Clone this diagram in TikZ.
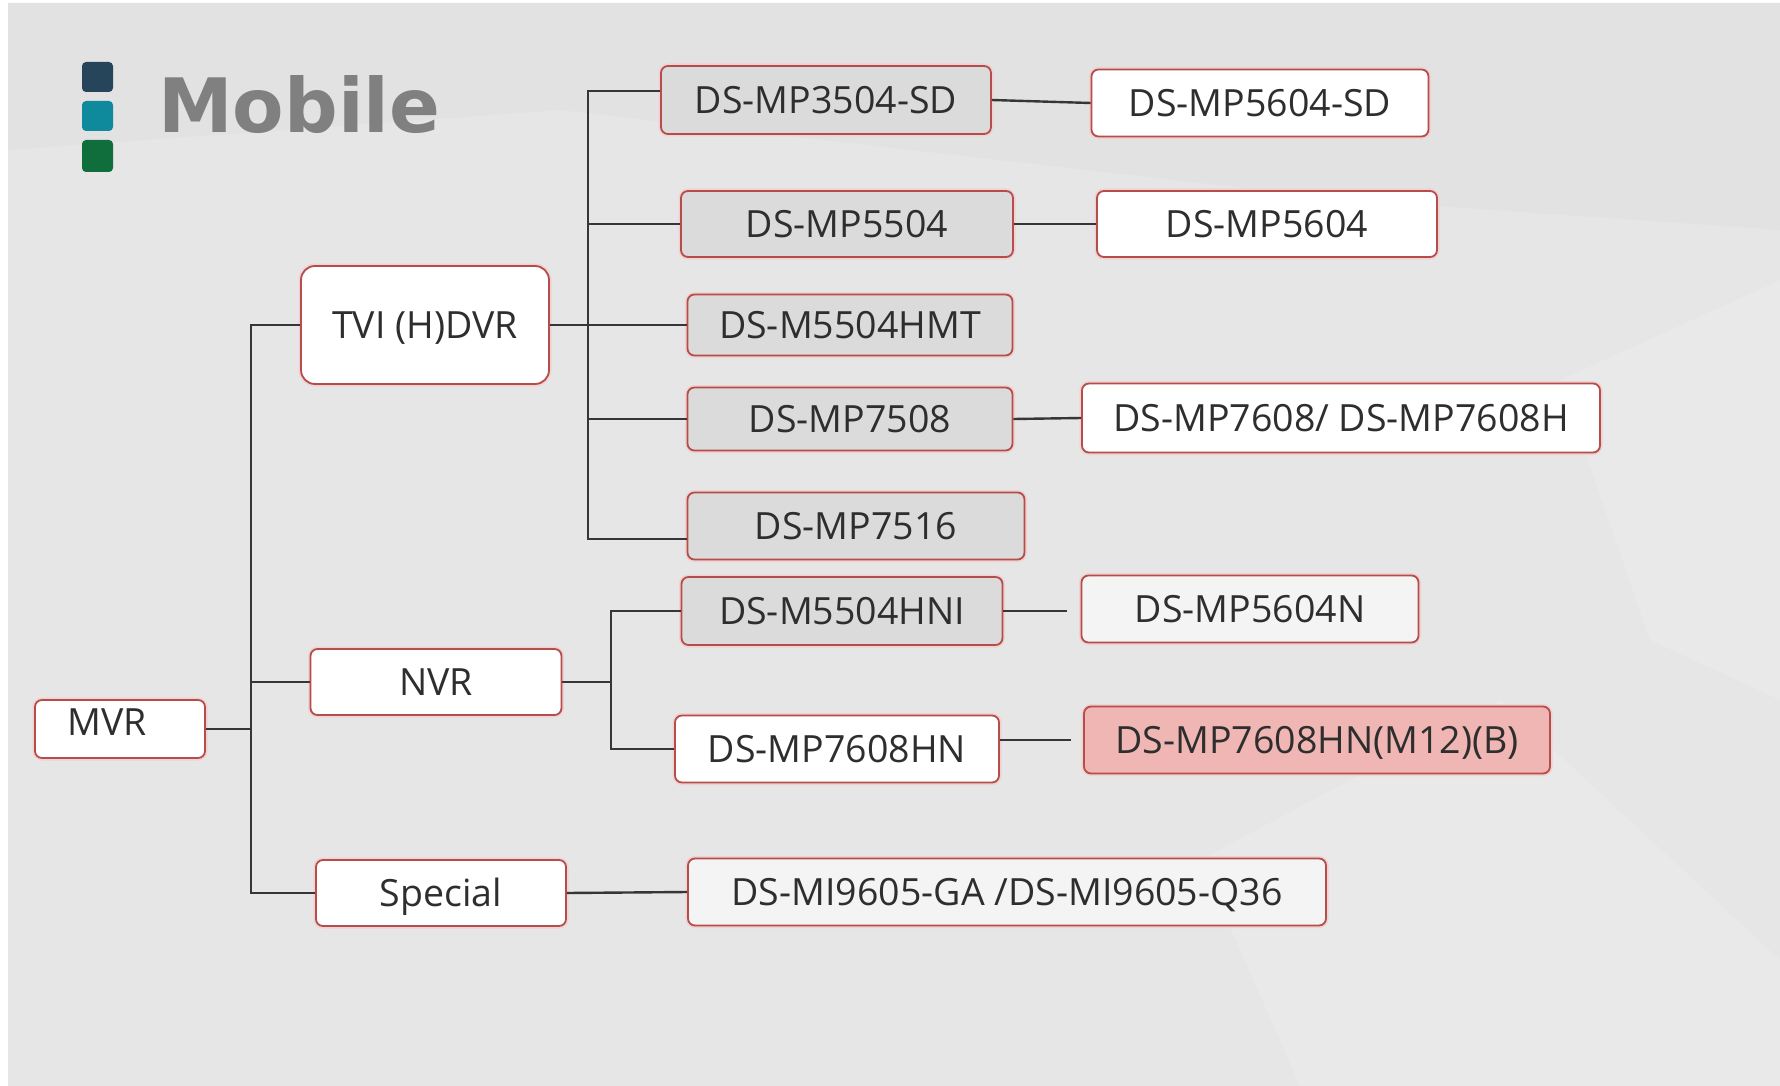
\documentclass[tikz,border=0pt]{standalone}
\usepackage{fontspec}
\setmainfont{Open Sans}
\newfontfamily\titlefont{DejaVu Sans}
\definecolor{linec}{HTML}{363636}
\definecolor{bordc}{HTML}{B54E4B}
\definecolor{glowc}{HTML}{EFD2D2}
\definecolor{grayf}{HTML}{DBDBDB}
\definecolor{lightf}{HTML}{F4F4F4}
\definecolor{pinkf}{HTML}{F0B6B4}
\definecolor{textc}{HTML}{2E2E2E}
\definecolor{bgc}{HTML}{E6E6E6}
\definecolor{bgl}{HTML}{E9E9E9}
\definecolor{bgd}{HTML}{E3E2E3}
\definecolor{sqa}{HTML}{27455A}
\definecolor{sqb}{HTML}{0E8A9C}
\definecolor{sqc}{HTML}{0F6E3C}
\definecolor{titlec}{HTML}{808080}
\begin{document}
\begin{tikzpicture}[x=1pt,y=-1pt,
  conn/.style={draw=linec, line width=2.4pt},
  bx/.style={draw=bordc, line width=1.8pt, rounded corners=7pt, inner sep=0pt,
    text=textc, font=\fontsize{37.5}{45}\selectfont, text height=27pt, text depth=0pt,
    preaction={draw=glowc, line width=5pt}},
  wbox/.style={bx, fill=white},
  gbox/.style={bx, fill=grayf},
  lbox/.style={bx, fill=lightf},
  pbox/.style={bx, fill=pinkf},
  sq/.style={rounded corners=4pt}
]
\useasboundingbox (0,0) rectangle (1780,1086);
% background
\fill[white] (0,0) rectangle (1780,1086);
\fill[bgc] (8,3) rectangle (1780,1086);
\fill[bgd] (8,3) -- (1780,3) -- (1780,230) -- (1350,200) -- (560,110) -- (8,150) -- cycle;
\fill[bgl] (1560,380) -- (1780,280) -- (1780,700) -- (1650,640) -- cycle;
\fill[bgl] (1200,860) -- (1500,700) -- (1780,960) -- (1780,1086) -- (1300,1086) -- cycle;
% logo
\fill[sqa, sq] (82,62) rectangle (113,92);
\fill[sqb, sq] (82,101) rectangle (113,131);
\fill[sqc, sq] (82,140) rectangle (113,172);
\node[anchor=base west, inner sep=0pt, text=titlec, font=\titlefont\bfseries\fontsize{75}{80}\selectfont] (title) at (158,133) {Mobile};
% nodes
\node[wbox, minimum width=170pt, minimum height=58pt] (mvr) at (120,729) {\raisebox{7pt}{\hbox{MVR\kern25pt}}};
\node[wbox, rounded corners=14pt, minimum width=248pt, minimum height=118pt] (tvi) at (425,325) {TVI (H)DVR};
\node[wbox, minimum width=251pt, minimum height=66pt] (nvr) at (436,682) {NVR};
\node[wbox, minimum width=250pt, minimum height=66pt] (spec) at (441,893) {Special};
\node[gbox, minimum width=330pt, minimum height=68pt] (b3504) at (826,100) {DS-MP3504-SD};
\node[wbox, minimum width=337pt, minimum height=67pt] (sd5604) at (1260,103) {DS-MP5604-SD};
\node[gbox, minimum width=332pt, minimum height=66pt] (b5504) at (847,224) {DS-MP5504};
\node[wbox, minimum width=340pt, minimum height=66pt] (b5604) at (1267,224) {DS-MP5604};
\node[gbox, minimum width=325pt, minimum height=61pt] (hmt) at (850,325) {DS-M5504HMT};
\node[gbox, minimum width=325pt, minimum height=63pt] (b7508) at (850,419) {DS-MP7508};
\node[wbox, minimum width=518pt, minimum height=69pt] (b7608) at (1341,418) {DS-MP7608/ DS-MP7608H};
\node[gbox, minimum width=337pt, minimum height=67pt] (b7516) at (856,526) {DS-MP7516};
\node[gbox, minimum width=321pt, minimum height=68pt] (hni) at (842,611) {DS-M5504HNI};
\node[lbox, minimum width=337pt, minimum height=67pt] (n5604) at (1250,609) {DS-MP5604N};
\node[wbox, minimum width=324pt, minimum height=67pt] (hn) at (837,749) {DS-MP7608HN};
\node[pbox, minimum width=466pt, minimum height=67pt] (m12) at (1317,740) {DS-MP7608HN(M12)(B)};
\node[lbox, minimum width=638pt, minimum height=67pt] (mi) at (1007,892) {DS-MI9605-GA /DS-MI9605-Q36};
% junctions
\coordinate (j1) at (251,729);
\coordinate (k1) at (588,325);
\coordinate (k1top) at (588,91);
\coordinate (k1bot) at (588,539);
\coordinate (n1) at (611,682);
% connectors
\draw[conn] (mvr.east) -- (j1);
\draw[conn] (tvi.west) -| (j1) |- (spec.west);
\draw[conn] (nvr.west) -- (nvr.west -| j1);
\draw[conn] (tvi.east) -- (hmt.west);
\draw[conn] (b3504.west |- k1top) -| (k1bot) -- (b7516.west |- k1bot);
\draw[conn] (b5504.west) -- (b5504.west -| k1);
\draw[conn] (b7508.west) -- (b7508.west -| k1);
\draw[conn] (nvr.east) -- (n1);
\draw[conn] (hni.west) -| (n1) |- (hn.west);
\draw[conn] (spec.east) -- (mi.west);
\draw[conn] (b3504.east) -- (sd5604.west);
\draw[conn] (b5504.east) -- (b5604.west);
\draw[conn] (b7508.east) -- (b7608.west);
\draw[conn, shorten >=14pt] (hni.east) -- (hni.east -| n5604.west);
\draw[conn, shorten >=12pt] (hn.east |- m12.west) -- (m12.west);
\end{tikzpicture}
\end{document}
